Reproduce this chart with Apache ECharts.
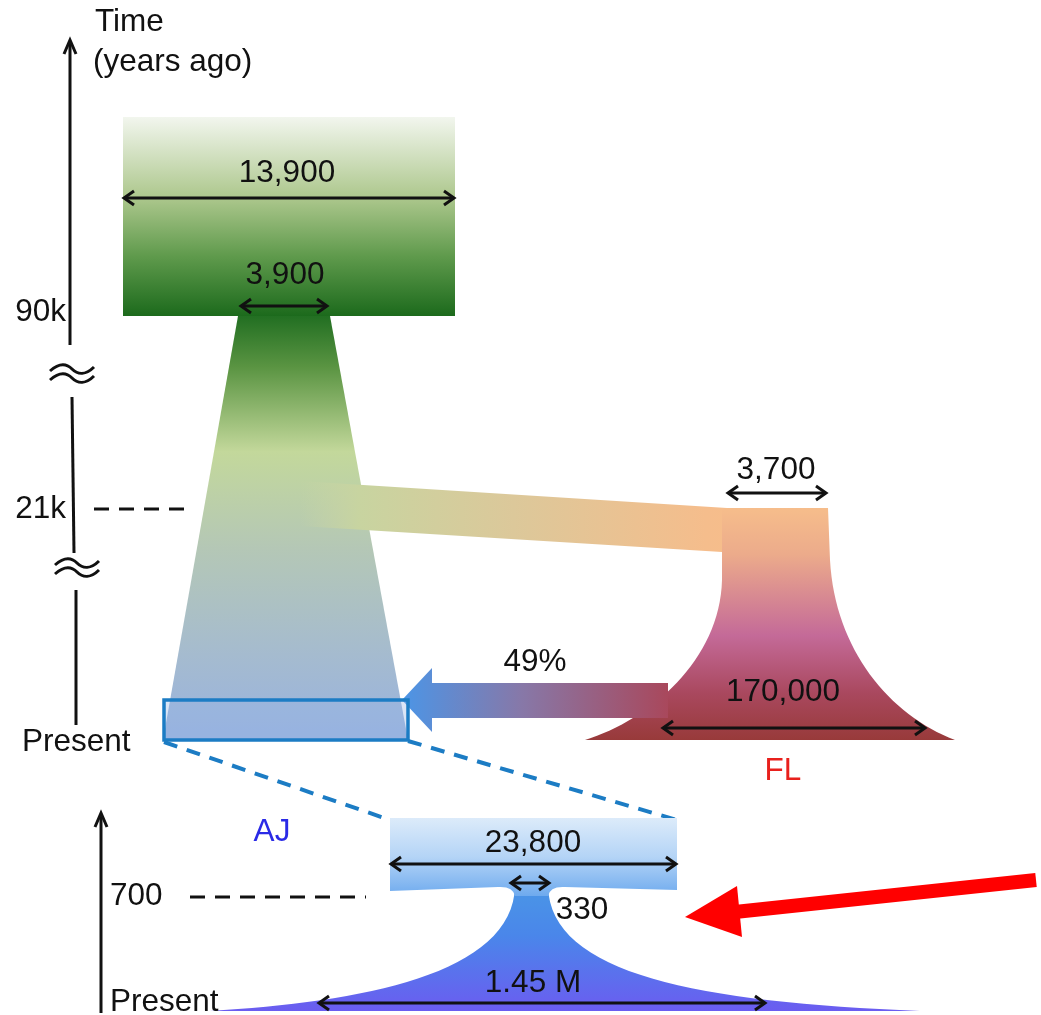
<!DOCTYPE html>
<html><head><meta charset="utf-8">
<script src="https://cdn.jsdelivr.net/npm/echarts@6/dist/echarts.min.js"></script>
<style>html,body{margin:0;padding:0;background:#fff}#c{width:1041px;height:1015px}</style>
</head><body><div id="c"></div>
<script>
// ---- content (text / values) ----
const axisTitle = ['Time', '(years ago)'];
const timeLabels = ['90k', '21k', 'Present'];
const zoomTimeLabels = ['700', 'Present'];
const ancestralSizes = ['13,900', '3,900'];
const flSizes = ['3,700', '170,000'];
const ajSizes = ['23,800', '330', '1.45 M'];
const admixturePct = ['49%'];
const popNames = ['AJ', 'FL'];

// ---- layout (diagram geometry in a 1041 x 1015 coordinate space) ----
const W = 1041, H = 1015;
const FONT = '"Liberation Sans", Arial, sans-serif';

const chart = echarts.init(document.getElementById('c'), null, {renderer: 'canvas'});

function renderItem(params, api) {
  const P = (x, y) => api.coord([x, y]);
  const kids = [];
  const pd = (cmds) => cmds.map(c => {
    const op = c[0]; const nums = c.slice(1);
    let out = op;
    for (let i = 0; i < nums.length; i += 2) { const p = P(nums[i], nums[i + 1]); out += ' ' + p[0].toFixed(1) + ' ' + p[1].toFixed(1); }
    return out;
  }).join(' ') + ' Z';
  const pathEl = (cmds, fill, extra) => kids.push(Object.assign({type: 'path', shape: {pathData: pd(cmds)}, style: {fill: fill, stroke: null}}, extra || {}));
  const polygon = (pts, fill) => kids.push({type: 'polygon', shape: {points: pts.map(p => P(p[0], p[1]))}, style: {fill: fill}});
  const line = (x1, y1, x2, y2, stroke, w, dash) => {
    const a = P(x1, y1), b = P(x2, y2);
    kids.push({type: 'line', shape: {x1: a[0], y1: a[1], x2: b[0], y2: b[1]}, style: {stroke: stroke, lineWidth: w, lineDash: dash || null, lineCap: 'butt'}});
  };
  const polyline = (pts, stroke, w) => kids.push({type: 'polyline', shape: {points: pts.map(p => P(p[0], p[1]))}, style: {stroke: stroke, lineWidth: w, fill: null, lineJoin: 'miter'}});
  const text = (t, x, y, opts) => {
    const p = P(x, y);
    kids.push({type: 'text', style: Object.assign({text: t, x: p[0], y: p[1], fill: '#111', fontSize: 31.5, fontFamily: FONT, align: 'center', verticalAlign: 'middle'}, opts || {})});
  };
  const dArrow = (x1, x2, y) => {
    line(x1 + 1, y, x2 - 1, y, '#111', 3);
    polyline([[x1 + 11, y - 7], [x1 + 1, y], [x1 + 11, y + 7]], '#111', 3);
    polyline([[x2 - 11, y - 7], [x2 - 1, y], [x2 - 11, y + 7]], '#111', 3);
  };
  const vgrad = (stops) => ({type: 'linear', x: 0, y: 0, x2: 0, y2: 1, colorStops: stops.map(s => ({offset: s[0], color: s[1]}))});
  const hgrad = (stops) => ({type: 'linear', x: 0, y: 0, x2: 1, y2: 0, colorStops: stops.map(s => ({offset: s[0], color: s[1]}))});

  // ancestral rectangle
  polygon([[123, 117], [455, 117], [455, 316], [123, 316]], vgrad([[0, '#f2f6ee'], [0.4, '#aec88e'], [0.7, '#5f9a4c'], [1, '#1c6a1c']]));
  // AJ founder trapezoid
  polygon([[238, 316], [330, 316], [408, 740], [163, 740]], vgrad([[0, '#226f22'], [0.12, '#5a9442'], [0.32, '#c3d89b'], [0.55, '#b4c7b6'], [0.8, '#a5bbcf'], [1, '#98b2df']]));
  // migration band
  polygon([[300, 481], [727, 508], [722, 552], [300, 526]], hgrad([[0, 'rgba(200,212,165,0)'], [0.14, 'rgba(200,212,160,1)'], [0.5, '#dcc89a'], [0.95, '#f5bd8c'], [1, '#f6bd8b']]));
  // FL shape
  pathEl([['M', 722, 508], ['L', 828, 508], ['L', 830, 560], ['C', 835, 650, 890, 715, 955, 740], ['L', 585, 740], ['C', 650, 720, 720, 660, 722, 580]],
    vgrad([[0, '#f6bd8b'], [0.2, '#ecab8b'], [0.55, '#c46a98'], [0.8, '#a9485e'], [1, '#983a3a']]));
  // admixture arrow
  polygon([[402, 700], [432, 668], [432, 683], [668, 683], [668, 718], [432, 718], [432, 732]],
    hgrad([[0, '#4c95e6'], [0.45, '#8778a8'], [1, '#a9485c']]));
  // zoom box
  const b1 = P(164, 700), b2 = P(408, 740);
  kids.push({type: 'rect', shape: {x: b1[0], y: b1[1], width: b2[0] - b1[0], height: b2[1] - b1[1]}, style: {fill: 'rgba(150,180,230,0.35)', stroke: '#1c7cc4', lineWidth: 3.5}});
  // zoom dashed lines
  line(164, 742, 390, 820, '#1c7cc4', 4, [14, 10]);
  line(408, 741, 677, 820, '#1c7cc4', 4, [14, 10]);

  // AJ expansion shape (neck)
  pathEl([['M', 515, 886], ['L', 548, 886], ['C', 550, 975, 700, 1002, 920, 1011], ['L', 210, 1011], ['C', 360, 1002, 513, 975, 515, 886]],
    vgrad([[0, '#4a96e6'], [0.4, '#4a86ea'], [1, '#6b5cf0']]));
  // AJ bottleneck rect
  pathEl([['M', 390, 818], ['L', 677, 818], ['L', 677, 890], ['L', 565, 887], ['Q', 550, 886, 548, 896], ['L', 515, 896], ['Q', 513, 886, 498, 887], ['L', 390, 891]],
    vgrad([[0, '#dcebfa'], [0.5, '#b4d4f6'], [1, '#6eaaee']]));

  // time axes
  line(70, 44, 70, 345, '#111', 3);
  polyline([[64, 54], [70, 40], [76, 54]], '#111', 3);
  line(72, 397, 74, 553, '#111', 3);
  line(76, 590, 76, 725, '#111', 3);
  const wave = (x, y) => {
    for (const dy of [0, 9]) {
      kids.push({type: 'path', shape: {pathData: (() => { const a = P(x, y + dy), c1 = P(x + 9, y + dy - 8), c2 = P(x + 16, y + dy - 8), m = P(x + 22, y + dy - 2), c3 = P(x + 28, y + dy + 4), c4 = P(x + 36, y + dy + 4), e = P(x + 44, y + dy - 4);
        return `M${a[0]} ${a[1]} C${c1[0]} ${c1[1]} ${c2[0]} ${c2[1]} ${m[0]} ${m[1]} C${c3[0]} ${c3[1]} ${c4[0]} ${c4[1]} ${e[0]} ${e[1]}`; })()},
        style: {fill: null, stroke: '#111', lineWidth: 3}});
    }
  };
  wave(50, 371);
  wave(55, 565);
  line(94, 509, 190, 509, '#111', 3, [15, 10]);

  line(101, 1013, 101, 817, '#111', 3);
  polyline([[95, 827], [101, 813], [107, 827]], '#111', 3);
  line(190, 897, 366, 897, '#111', 3, [15, 10]);

  // double arrows
  dArrow(123, 455, 198);
  dArrow(240, 328, 306);
  dArrow(727, 827, 493);
  dArrow(662, 926, 728);
  dArrow(390, 677, 864);
  dArrow(510, 550, 883);
  dArrow(318, 766, 1003);

  // red pointer arrow
  line(1036, 880, 735, 912, '#ff0000', 14);
  polygon([[685, 917], [737, 886], [742, 937]], '#ff0000');

  // texts
  text(axisTitle[0], 95, 22, {align: 'left'});
  text(axisTitle[1], 93, 62, {align: 'left'});
  text(timeLabels[0], 66, 312, {align: 'right'});
  text(timeLabels[1], 66, 509, {align: 'right'});
  text(timeLabels[2], 22, 742, {align: 'left'});
  text(ancestralSizes[0], 287, 173);
  text(ancestralSizes[1], 285, 275);
  text(flSizes[0], 776, 470);
  text(flSizes[1], 783, 692);
  text(admixturePct[0], 535, 662);
  text(popNames[1], 783, 771, {fill: '#e8201c'});
  text(popNames[0], 272, 832, {fill: '#2a2ae6'});
  text(ajSizes[0], 533, 843);
  text(ajSizes[1], 582, 910);
  text(ajSizes[2], 533, 983);
  text(zoomTimeLabels[0], 110, 896, {align: 'left'});
  text(zoomTimeLabels[1], 110, 1002, {align: 'left'});

  return {type: 'group', children: kids};
}

chart.setOption({
  animation: false,
  grid: {left: 0, right: 0, top: 0, bottom: 0},
  xAxis: {type: 'value', min: 0, max: W, show: false},
  yAxis: {type: 'value', min: 0, max: H, inverse: true, show: false},
  series: [{type: 'custom', coordinateSystem: 'cartesian2d', renderItem: renderItem, data: [[0, 0]], clip: false, silent: true}]
});
</script></body></html>
